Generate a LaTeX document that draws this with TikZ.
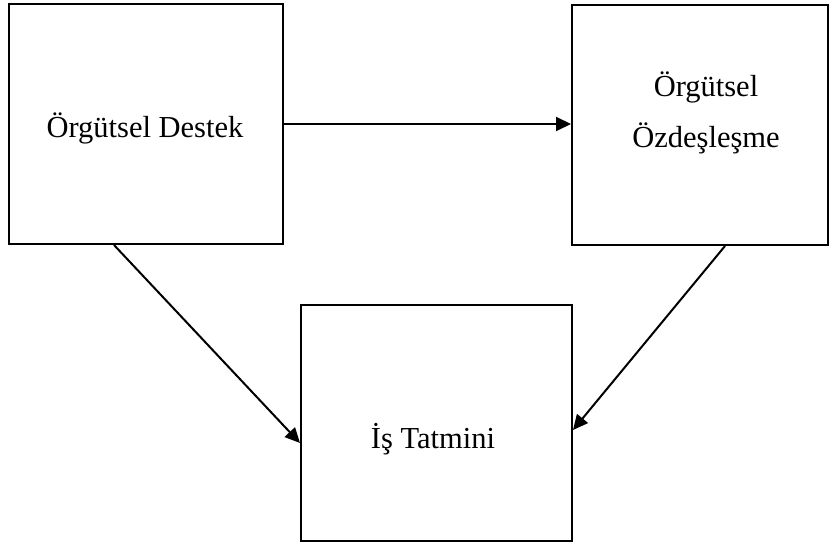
\documentclass[tikz,border=0pt]{standalone}
\usepackage{fontspec}
\setmainfont{Liberation Serif}
\usetikzlibrary{arrows.meta}
\begin{document}
\begin{tikzpicture}[x=1bp,y=-1bp,
  boxnode/.style={draw=black,line width=2bp,inner sep=0pt,fill=none},
  lbl/.style={font=\fontsize{30.5bp}{51bp}\selectfont,inner sep=0pt,align=center},
  conn/.style={line width=2bp,-{Triangle[length=15bp,width=14bp]}}]
\useasboundingbox (0,0) rectangle (833,546);
\node[boxnode,minimum width=274bp,minimum height=240bp] (L) at (146,124) {};
\node[boxnode,minimum width=256bp,minimum height=240bp] (R) at (700,125) {};
\node[boxnode,minimum width=271bp,minimum height=236bp] (B) at (436.5,423) {};
\node[lbl,anchor=base] (tL) at (145,138) {Örgütsel Destek};
\node[lbl,anchor=base] (tR1) at (706,97) {Örgütsel};
\node[lbl,anchor=base] (tR2) at (706,148) {Özdeşleşme};
\node[lbl,anchor=base] (tB) at (433,448) {İş Tatmini};
\draw[conn] (L.east) -- (R.west |- L.east);
\draw[conn] ([xshift=106bp]L.south west) -- ([yshift=-20bp]B.west);
\draw[conn] ([xshift=25bp]R.south) -- ([yshift=-7bp]B.east);
\end{tikzpicture}
\end{document}
